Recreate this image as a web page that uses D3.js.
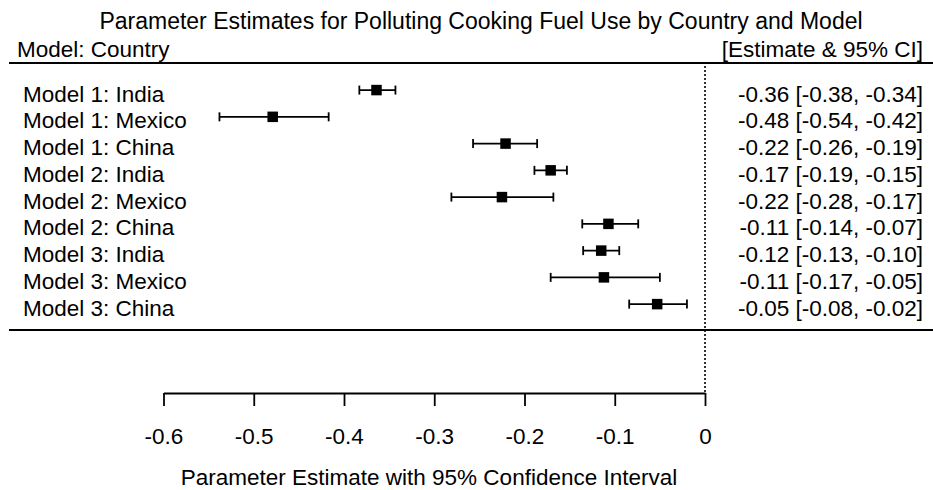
<!DOCTYPE html>
<html><head><meta charset="utf-8">
<script src="https://cdn.jsdelivr.net/npm/d3@7"></script>
<style>body{margin:0;background:#fff;} text{font-family:"Liberation Sans",Arial,sans-serif;fill:#000;}</style>
</head><body>
<svg id="c" width="933" height="490"></svg>
<script>
const labels = ["Model 1: India","Model 1: Mexico","Model 1: China","Model 2: India","Model 2: Mexico","Model 2: China","Model 3: India","Model 3: Mexico","Model 3: China"];
const estimates = [-0.364,-0.479,-0.221,-0.171,-0.225,-0.107,-0.115,-0.112,-0.053];
const lower = [-0.383,-0.538,-0.257,-0.189,-0.281,-0.136,-0.135,-0.171,-0.084];
const upper = [-0.343,-0.417,-0.186,-0.153,-0.168,-0.074,-0.095,-0.050,-0.020];
const ciText = ["-0.36 [-0.38, -0.34]","-0.48 [-0.54, -0.42]","-0.22 [-0.26, -0.19]","-0.17 [-0.19, -0.15]","-0.22 [-0.28, -0.17]","-0.11 [-0.14, -0.07]","-0.12 [-0.13, -0.10]","-0.11 [-0.17, -0.05]","-0.05 [-0.08, -0.02]"];
const tickValues = [-0.6,-0.5,-0.4,-0.3,-0.2,-0.1,0];

const svg = d3.select("#c");
const x = d3.scaleLinear().domain([-0.6,0]).range([163.5,705]);
const y = d3.scaleBand().domain(d3.range(labels.length)).range([76.7,317.5]);
const fs = 22.5;

svg.append("text").attr("x",481).attr("y",28.5).attr("text-anchor","middle").attr("font-size",23).text("Parameter Estimates for Polluting Cooking Fuel Use by Country and Model");
svg.append("text").attr("x",17).attr("y",56.5).attr("font-size",fs).text("Model: Country");
svg.append("text").attr("x",923).attr("y",56.5).attr("text-anchor","end").attr("font-size",fs).text("[Estimate & 95% CI]");

svg.append("line").attr("x1",9).attr("x2",933).attr("y1",63).attr("y2",63).attr("stroke","#000").attr("stroke-width",1.8);
svg.append("line").attr("x1",9).attr("x2",933).attr("y1",330).attr("y2",330).attr("stroke","#000").attr("stroke-width",1.8);

svg.append("line").attr("x1",x(0)).attr("x2",x(0)).attr("y1",66).attr("y2",393).attr("stroke","#000").attr("stroke-width",1.6).attr("stroke-dasharray","2,2");

const rows = svg.append("g").selectAll("g").data(labels).join("g")
  .attr("transform",(d,i)=>`translate(0,${y(i)+y.bandwidth()/2})`);
rows.append("text").attr("x",23).attr("y",11.5).attr("font-size",fs).text(d=>d);
rows.append("text").attr("x",923).attr("y",11.5).attr("text-anchor","end").attr("font-size",fs).text((d,i)=>ciText[i]);
rows.append("line").attr("x1",(d,i)=>x(lower[i])).attr("x2",(d,i)=>x(upper[i])).attr("stroke","#000").attr("stroke-width",1.8);
rows.append("line").attr("x1",(d,i)=>x(lower[i])).attr("x2",(d,i)=>x(lower[i])).attr("y1",-4.5).attr("y2",4.5).attr("stroke","#000").attr("stroke-width",1.8);
rows.append("line").attr("x1",(d,i)=>x(upper[i])).attr("x2",(d,i)=>x(upper[i])).attr("y1",-4.5).attr("y2",4.5).attr("stroke","#000").attr("stroke-width",1.8);
rows.append("rect").attr("x",(d,i)=>x(estimates[i])-5.25).attr("y",-5.25).attr("width",10.5).attr("height",10.5).attr("fill","#000");

const ax = svg.append("g").attr("transform","translate(0,393)")
  .call(d3.axisBottom(x).tickValues(tickValues).tickSize(13).tickPadding(22).tickSizeOuter(0).tickFormat(d=>d===0?"0":d3.format(".1f")(d).replace("\u2212","-")));
ax.select(".domain").attr("stroke-width",1.8);
ax.selectAll(".tick line").attr("stroke-width",1.8);
ax.selectAll("text").attr("font-size",fs).attr("font-family","Liberation Sans, Arial, sans-serif");

svg.append("text").attr("x",429).attr("y",485).attr("text-anchor","middle").attr("font-size",fs).text("Parameter Estimate with 95% Confidence Interval");
</script>
</body></html>
